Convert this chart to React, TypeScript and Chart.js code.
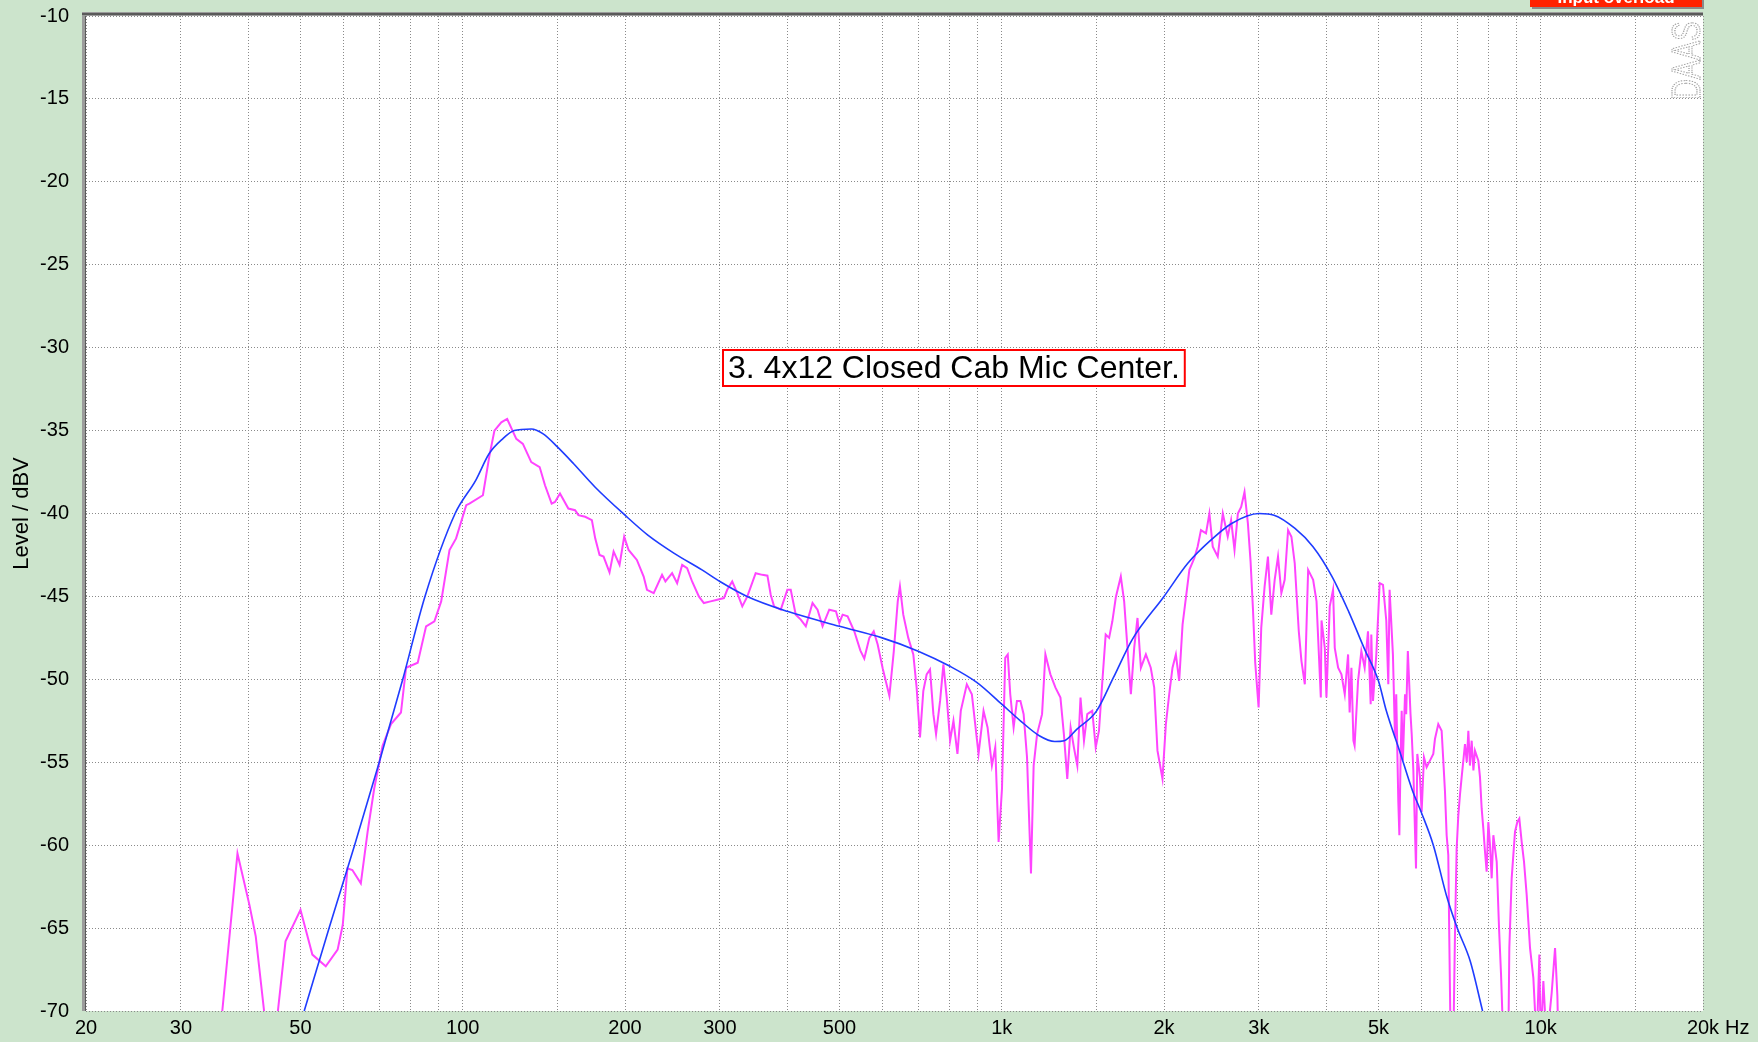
import React, { useEffect, useRef } from "react";
import { Chart, registerables } from "chart.js";

Chart.register(...registerables);

const W = 1758;
const H = 1042;
const FONT = '"Liberation Sans", Arial, sans-serif';

// X grid (Hz) and labels
const gridFreqs = [20, 30, 40, 50, 60, 70, 80, 90, 100, 150, 200, 300, 400, 500, 600, 700, 800, 900,
  1000, 1500, 2000, 3000, 4000, 5000, 6000, 7000, 8000, 9000, 10000, 15000, 20000];
const freqLabels: Record<string, string> = {
  "20": "20", "30": "30", "50": "50", "100": "100", "200": "200", "300": "300", "500": "500",
  "1000": "1k", "2000": "2k", "3000": "3k", "5000": "5k", "10000": "10k", "20000": "20k",
};
const levelTicks = [-70, -65, -60, -55, -50, -45, -40, -35, -30, -25, -20, -15, -10];

const yTitle = "Level / dBV";
const annotationText = "3. 4x12 Closed Cab Mic Center.";
const unitText = "Hz";
const overloadText = "Input overload";
const logoText = "DAAS";

// Smoothed (blue) curve
const fitFreq = [50.8, 56.5, 63, 70, 77.4, 85.1, 96.8, 105.7, 111.9, 118.6,
  124.6, 134, 141, 150, 160.6, 175.9, 200, 220.5, 246.8, 277.9,
  300, 337, 400, 500, 600, 700, 800, 900, 1000, 1083,
  1174, 1254, 1306, 1379, 1500, 1611, 1746, 2000, 2214, 2464,
  2670, 3000, 3200, 3500, 3780, 4100, 4400, 4700, 5000, 5170,
  5470, 5780, 6000, 6320, 6680, 7000, 7400, 7800];
const fitLevel = [-70, -65, -60, -55, -50, -45, -40, -38, -36.4, -35.5,
  -35.0, -34.9, -35.2, -36.0, -37.0, -38.4, -40.1, -41.3, -42.4, -43.4,
  -44.1, -45.0, -45.9, -46.8, -47.5, -48.3, -49.2, -50.2, -51.5, -52.5,
  -53.4, -53.75, -53.7, -53.0, -51.9, -49.9, -47.6, -45.0, -43.0, -41.5,
  -40.6, -40.0, -40.1, -40.9, -42.0, -43.8, -45.9, -48.1, -50.1, -51.9,
  -54.3, -56.7, -58.0, -60.0, -63.0, -65.0, -67.0, -70.0];

// Measured (magenta) response: low segment
const measLowFreq = [35.3, 35.8, 38.2, 40.2, 41.3, 42.8, 44.0, 45.4, 46.9, 50.0,
  52.6, 55.7, 58.6, 59.9, 61.1, 62.4, 64.7, 66.6, 68.5, 71.0,
  73.6, 76.8, 78.5, 82.5, 85.5, 88.6, 91.2, 94.5, 97.2, 101.5,
  102.9, 109.0, 112.1, 114.5, 117.9, 120.9, 125.7, 129.3, 134.0, 138.9,
  142.1, 146.2, 148.3, 151.5, 157.0, 161.6, 163.9, 168.7, 173.6, 176.1,
  179.4, 182.5, 187.2, 190.5, 195.4, 199.3, 203.1, 210.4, 216.6, 219.7,
  226.1, 234.3, 237.7, 244.6, 249.9, 255.3, 260.8, 266.4, 274.2, 280.1,
  288.3, 296.6, 305.2, 309.5, 316.2, 323.1, 330.1, 337.3, 349.5, 359.7,
  367.5, 372.7, 378.1, 389.1, 400.2, 406.0, 414.8, 423.8, 433.0, 445.6,
  455.2, 465.1, 478.6, 492.5, 499.6, 506.7, 517.6, 532.6, 546.5, 555.9,
  568.0, 578.7, 588.6, 601.4, 618.8, 630.4, 641.3];
const measLowLevel = [-73, -70, -60.5, -63.6, -65.5, -70, -76, -70, -65.8, -63.9,
  -66.6, -67.3, -66.3, -64.8, -61.4, -61.5, -62.3, -59.2, -56.6, -54.0,
  -52.7, -52.0, -49.3, -49.0, -46.8, -46.5, -45.3, -42.2, -41.5, -39.5,
  -39.4, -38.9, -36.5, -35.0, -34.5, -34.3, -35.5, -35.8, -36.9, -37.2,
  -38.3, -39.4, -39.3, -38.8, -39.7, -39.8, -40.1, -40.2, -40.4, -41.5,
  -42.5, -42.6, -43.55, -42.3, -43.1, -41.4, -42.2, -42.8, -43.8, -44.6,
  -44.8, -43.7, -44.1, -43.6, -44.2, -43.1, -43.3, -44.1, -45.0, -45.4,
  -45.3, -45.2, -45.1, -44.6, -44.1, -44.8, -45.6, -45.0, -43.6, -43.7,
  -43.75, -44.9, -45.6, -45.8, -44.6, -44.6, -46.1, -46.4, -46.8, -45.4,
  -45.8, -46.8, -45.8, -45.9, -46.6, -46.1, -46.2, -47.1, -48.25, -48.75,
  -47.5, -47.1, -47.9, -49.35, -51.0, -48.35, -45.3];

// Measured: mid segment
const measMidFreq = [647.3, 656.6, 670.8, 685.4, 695.2, 705.2, 715.3, 725.6, 736.1, 746.7,
  755.3, 768.4, 779.4, 790.6, 802.0, 813.6, 827.6, 839.5, 861.4, 880.1,
  905.6, 925.2, 941.2, 958.9, 972.7, 986.7, 1001, 1015, 1026, 1037,
  1052, 1067, 1083, 1098, 1114, 1133, 1146, 1163, 1188, 1205,
  1231, 1258, 1285, 1304, 1323, 1342, 1361, 1381, 1400, 1421,
  1441, 1472, 1494, 1515, 1537, 1559, 1582, 1604, 1628, 1663,
  1687, 1711, 1736, 1761, 1786, 1812, 1851, 1890, 1918, 1945,
  1987, 2016, 2045, 2074, 2104, 2134, 2165, 2197, 2229, 2276,
  2309, 2342, 2393, 2428, 2463, 2516, 2571, 2626, 2664, 2703,
  2742, 2781, 2821, 2862, 2895, 2924, 2953, 2996, 3030, 3074,
  3118, 3163, 3209, 3255, 3302, 3349, 3398, 3447, 3496, 3557,
  3598, 3650, 3702, 3782, 3837, 3908];
const measMidLevel = [-44.4, -46.1, -47.5, -48.5, -50.5, -53.5, -50.7, -49.7, -49.4, -52.1,
  -53.3, -51.3, -49.1, -51.1, -53.7, -52.5, -54.5, -51.9, -50.3, -50.9,
  -54.5, -51.9, -52.9, -55.2, -54.1, -59.8, -56.6, -48.7, -48.5, -50.9,
  -52.9, -51.3, -51.3, -52.1, -54.7, -61.7, -55.2, -53.3, -52.1, -48.5,
  -49.7, -50.5, -51.1, -53.3, -56.0, -52.9, -54.1, -55.2, -51.1, -53.7,
  -52.1, -51.9, -54.1, -53.1, -50.1, -47.3, -47.5, -46.5, -45.05, -43.8,
  -45.3, -48.1, -50.9, -48.1, -46.3, -49.3, -48.5, -49.3, -50.5, -54.3,
  -56.0, -52.7, -50.9, -49.3, -48.5, -50.1, -46.7, -45.05, -43.4, -42.7,
  -42.0, -41.0, -41.2, -40.0, -42.0, -42.6, -40.0, -41.4, -40.4, -42.2,
  -40.0, -39.6, -38.7, -40.6, -42.9, -45.7, -49.0, -51.7, -46.9, -44.4,
  -42.6, -46.1, -44.0, -42.6, -44.8, -44.0, -41.0, -41.4, -43.0, -47.1,
  -48.9, -50.3, -43.4, -44.0, -45.3, -51.1];

// Measured: high segment
const measHighFreq = [3920, 3975, 4003, 4060, 4118, 4148, 4208, 4268, 4329, 4391,
  4420, 4454, 4492, 4515, 4582, 4647, 4713, 4781, 4836, 4849,
  4884, 4954, 5025, 5097, 5169, 5214, 5243, 5318, 5365, 5394,
  5442, 5466, 5497, 5521, 5549, 5600, 5628, 5668, 5733, 5762,
  5803, 5869, 5902, 5969, 6012, 6072, 6141, 6229, 6319, 6364,
  6455, 6548, 6595, 6642, 6690, 6737, 6766, 6805, 6883, 6932,
  6982, 7032, 7082, 7133, 7184, 7235, 7290, 7340, 7390, 7445,
  7500, 7551, 7660, 7714, 7770, 7825, 7881, 7937, 7994, 8051,
  8109, 8167, 8285, 8368, 8440, 8524, 8707, 8744, 8832, 8958,
  9048, 9126, 9218, 9310, 9417, 9484, 9552, 9689, 9828, 9941,
  9998, 10112, 10257, 10479, 10630, 10737, 10783];
const measHighLevel = [-46.45, -48.1, -51.1, -45.6, -44.6, -48.1, -49.3, -49.7, -50.9, -48.5,
  -52.0, -49.3, -53.7, -54.0, -50.1, -48.3, -49.3, -47.1, -51.5, -47.3,
  -51.3, -48.5, -44.2, -44.3, -46.45, -50.3, -44.6, -48.5, -53.5, -50.9,
  -57.4, -59.4, -54.5, -51.9, -54.9, -50.9, -52.1, -48.3, -52.1, -53.3,
  -55.5, -61.4, -54.5, -55.9, -58.0, -54.7, -55.3, -54.9, -54.5, -53.6,
  -52.7, -53.1, -54.9, -56.75, -59.4, -60.6, -65.6, -72, -72, -65.4,
  -60.2, -58.2, -56.95, -55.9, -54.9, -53.9, -55.0, -53.1, -55.2, -53.7,
  -55.5, -54.3, -54.9, -55.9, -57.8, -59.0, -60.4, -61.6, -58.6, -60.0,
  -62.0, -59.4, -61.0, -65.0, -67.8, -72, -72, -66.2, -62.0, -59.2,
  -58.6, -58.4, -59.8, -61.0, -63.0, -64.6, -66.2, -68.0, -72, -66.6,
  -72, -68.2, -72, -68.9, -66.2, -69.1, -72];

function pairs(xs: number[], ys: number[]) {
  const n = Math.min(xs.length, ys.length);
  const out: { x: number; y: number }[] = [];
  for (let i = 0; i < n; i++) out.push({ x: xs[i], y: ys[i] });
  return out;
}

const decorPlugin = {
  id: "decor",
  beforeDraw(chart: any) {
    const { ctx, chartArea: a } = chart;
    ctx.save();
    ctx.fillStyle = "rgb(204,228,204)";
    ctx.fillRect(0, 0, W, H);
    ctx.fillStyle = "#ffffff";
    ctx.fillRect(a.left, a.top, a.right - a.left, a.bottom - a.top);
    ctx.restore();
  },
  afterDraw(chart: any) {
    const { ctx, chartArea: a } = chart;
    ctx.save();
    // left / top frame bars
    ctx.fillStyle = "#9c9c9c";
    ctx.fillRect(a.left - 4, a.top - 4, 4, a.bottom - a.top + 4);
    ctx.fillRect(a.left - 4, a.top - 4, a.right - a.left + 4, 4);
    ctx.fillStyle = "#5a5a5a";
    ctx.fillRect(a.left - 1, a.top, 1, a.bottom - a.top);
    ctx.fillRect(a.left - 4, a.top - 3, a.right - a.left + 4, 2);

    // "Hz" unit after the last x label
    const xs = chart.scales.x;
    ctx.font = `20px ${FONT}`;
    ctx.fillStyle = "#000";
    ctx.textBaseline = "middle";
    ctx.textAlign = "left";
    const px = xs.getPixelForValue(20000);
    const w = ctx.measureText("20k").width;
    ctx.fillText(unitText, px + w / 2 + 6, a.bottom + 17);

    // annotation box
    ctx.font = `32px ${FONT}`;
    const tw = ctx.measureText(annotationText).width;
    const bx = 722, by = 349, bh = 38, bw = tw + 12;
    ctx.fillStyle = "#ffffff";
    ctx.fillRect(bx, by, bw, bh);
    ctx.strokeStyle = "#ff0000";
    ctx.lineWidth = 2;
    ctx.strokeRect(bx + 1, by + 1, bw - 2, bh - 2);
    ctx.fillStyle = "#000";
    ctx.textBaseline = "middle";
    ctx.fillText(annotationText, bx + 6, by + bh / 2 + 1);

    // Input overload tag (clipped at top)
    ctx.fillStyle = "#8a8a8a";
    ctx.fillRect(1532, 0, 172, 9);
    ctx.fillStyle = "#ff2200";
    ctx.fillRect(1530, 0, 172, 7);
    ctx.fillStyle = "#ffffff";
    ctx.font = `bold 17px ${FONT}`;
    ctx.textAlign = "center";
    ctx.textBaseline = "alphabetic";
    ctx.fillText(overloadText, 1616, 3);

    // DAAS logo (dotted outline, rotated)
    ctx.translate(1700, 100);
    ctx.rotate(-Math.PI / 2);
    ctx.scale(0.72, 1);
    ctx.font = `40px ${FONT}`;
    ctx.textAlign = "left";
    ctx.textBaseline = "alphabetic";
    ctx.setLineDash([1.5, 1.5]);
    ctx.strokeStyle = "#a0a0a0";
    ctx.lineWidth = 1.3;
    ctx.strokeText(logoText, 0, 0);
    ctx.restore();
  },
};

export default function App() {
  const ref = useRef<HTMLCanvasElement | null>(null);
  useEffect(() => {
    if (!ref.current) return;
    Chart.defaults.font.family = FONT;
    const chart = new Chart(ref.current, {
      type: "line",
      data: {
        datasets: [
          {
            label: "fit",
            data: pairs(fitFreq, fitLevel),
            borderColor: "#1f3cff",
            borderWidth: 1.6,
            pointRadius: 0,
            cubicInterpolationMode: "monotone",
            clip: 0,
            order: 0,
          },
          {
            label: "measured",
            data: pairs(
              [...measLowFreq, ...measMidFreq, ...measHighFreq],
              [...measLowLevel, ...measMidLevel, ...measHighLevel]
            ),
            borderColor: "#ff44ff",
            borderWidth: 2,
            pointRadius: 0,
            tension: 0,
            clip: 0,
            order: 1,
          },
        ],
      },
      options: {
        animation: false,
        responsive: false,
        devicePixelRatio: 1,
        parsing: false as any,
        layout: { padding: { top: 16, right: 55, bottom: 0, left: 0 } },
        plugins: { legend: { display: false }, tooltip: { enabled: false } },
        scales: {
          x: {
            type: "logarithmic",
            min: 20,
            max: 20000,
            afterBuildTicks: (s: any) => {
              s.ticks = gridFreqs.map((v) => ({ value: v }));
            },
            afterFit: (s: any) => {
              s.height = 31;
            },
            grid: { color: "#8a8a8a", lineWidth: 1, drawTicks: false },
            border: { display: false, dash: [1, 2] },
            ticks: {
              autoSkip: false,
              maxRotation: 0,
              minRotation: 0,
              padding: 5,
              color: "#000",
              font: { size: 20 },
              callback: (v: any) => freqLabels[String(v)] ?? "",
            },
          },
          y: {
            type: "linear",
            min: -70,
            max: -10,
            afterBuildTicks: (s: any) => {
              s.ticks = levelTicks.map((v) => ({ value: v }));
            },
            afterFit: (s: any) => {
              s.width = 86;
            },
            grid: {
              color: "#8a8a8a",
              lineWidth: 1,
              drawTicks: true,
              tickLength: 17,
              tickColor: "rgba(0,0,0,0)",
            },
            border: { display: false, dash: [1, 2] },
            ticks: {
              padding: 0,
              color: "#000",
              font: { size: 20 },
              callback: (v: any) => String(v),
            },
            title: {
              display: true,
              text: yTitle,
              color: "#000",
              font: { size: 22 },
              padding: { top: 9, bottom: 0 },
            },
          },
        },
      },
      plugins: [decorPlugin],
    } as any);
    return () => chart.destroy();
  }, []);
  return (
    <div style={{ position: "fixed", left: 0, top: 0, width: W, height: H, background: "rgb(204,228,204)" }}>
      <canvas ref={ref} width={W} height={H} style={{ display: "block", width: W, height: H }} />
    </div>
  );
}
